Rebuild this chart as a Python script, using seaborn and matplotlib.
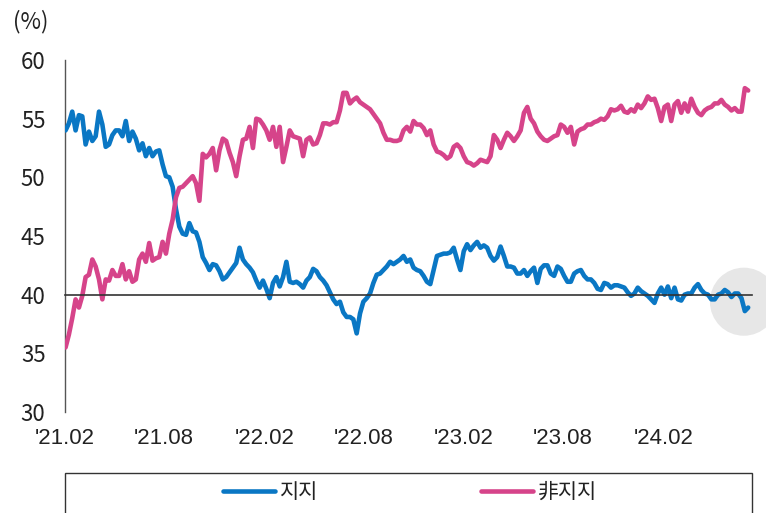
import numpy as np
import pandas as pd
import matplotlib
matplotlib.use("Agg")
import matplotlib.pyplot as plt
import matplotlib.dates as mdates
from matplotlib.patches import Ellipse, Rectangle
from matplotlib.lines import Line2D
import seaborn as sns

sns.set_style("white")
plt.rcParams["font.family"] = ["Noto Sans CJK KR", "DejaVu Sans"]

# ---- data -------------------------------------------------------------
first_date, last_date = "2021-02-02", "2024-07-05"

support = [
    54.0, 54.6, 55.6, 54.0, 55.3, 55.2, 52.8, 53.9, 53.1, 53.5,
    55.6, 54.5, 52.6, 52.8, 53.6, 54.0, 54.0, 53.5, 54.8, 53.1,
    53.9, 53.3, 52.3, 52.9, 51.8, 52.5, 51.8, 52.2, 52.3, 51.1,
    50.1, 50.0, 49.2, 47.3,
    45.8, 45.2, 45.1, 46.1, 45.4, 45.3, 44.5, 43.2, 42.7, 42.1,
    42.6, 42.5, 42.0, 41.3, 41.5, 41.9, 42.3, 42.7, 44.0, 43.0,
    42.6, 42.3, 41.9, 41.2, 40.6, 41.2, 40.5, 39.7, 41.0, 41.5,
    40.7, 41.5, 42.8, 41.1,
    41.0, 41.1, 40.9, 40.6, 41.2, 41.5, 42.2, 42.0, 41.5, 41.2,
    40.8, 40.2, 39.6, 39.2, 39.4, 38.5, 38.1, 38.1, 37.9, 36.7,
    38.4, 39.4, 39.7, 40.1, 41.0, 41.7, 41.8, 42.1, 42.4, 42.8,
    42.6, 42.8, 43.0, 43.3,
    42.8, 43.0, 42.3, 42.1, 42.0, 41.6, 41.1, 40.9, 42.1, 43.3,
    43.4, 43.5, 43.5, 43.6, 44.0, 43.0, 42.1, 43.7, 44.3, 43.8,
    44.2, 44.5, 44.0, 44.2, 44.0, 43.3, 42.9, 43.2, 44.1, 43.3,
    42.4, 42.4, 42.3, 41.8,
    41.8, 42.1, 41.6, 42.0, 42.3, 41.0, 42.2, 42.5, 42.5, 41.8,
    41.6, 42.4, 42.2, 41.6, 41.1, 41.1, 41.8, 42.0, 42.1, 41.6,
    41.3, 41.3, 41.0, 40.5, 40.4, 41.0, 40.9, 40.6, 40.8, 40.8,
    40.7, 40.6, 40.2, 39.9,
    40.1, 40.6, 40.3, 40.1, 39.9, 39.6, 39.3, 40.1, 40.6, 40.0,
    40.7, 39.7, 40.6, 39.6, 39.5, 40.0, 40.1, 40.1, 40.6, 40.9,
    40.4, 40.1, 40.0, 39.6, 39.6, 40.0, 40.1, 40.4, 40.2, 39.8,
    40.1, 40.1, 39.7, 38.6, 38.9,
]

non_support = [
    35.5, 36.6, 38.0, 39.6, 38.9, 39.9, 41.5, 41.7, 43.0, 42.4,
    41.3, 39.6, 41.3, 41.2, 42.1, 41.6, 41.6, 42.6, 41.3, 42.0,
    41.1, 41.3, 43.0, 43.5, 42.8, 44.4, 42.9, 43.1, 43.2, 44.5,
    43.5, 45.2, 46.4, 48.3,
    49.1, 49.2, 49.5, 49.8, 50.1, 49.5, 48.0, 52.0, 51.7, 52.0,
    52.5, 50.6, 52.3, 53.3, 53.1, 52.1, 51.3, 50.1, 51.8, 53.2,
    53.3, 54.3, 52.5, 55.0, 54.9, 54.5, 54.0, 53.2, 54.3, 52.6,
    54.3, 51.3, 52.6, 54.0,
    53.5, 53.4, 53.3, 51.8, 53.2, 53.4, 52.8, 52.9, 53.6, 54.6,
    54.6, 54.5, 54.7, 54.7, 55.7, 57.2, 57.2, 56.3, 56.6, 56.8,
    56.4, 56.2, 56.0, 55.8, 55.4, 55.0, 54.6, 53.8, 53.2, 53.2,
    53.1, 53.1, 53.2, 54.0,
    54.3, 53.9, 54.8, 54.5, 54.5, 54.2, 53.6, 54.0, 52.8, 52.2,
    52.1, 51.9, 51.6, 51.8, 52.6, 52.8, 52.5, 51.8, 51.3, 51.2,
    51.0, 51.2, 51.5, 51.4, 51.3, 51.8, 53.6, 53.2, 52.5, 53.2,
    53.8, 53.5, 53.1, 53.5,
    54.0, 55.5, 56.0, 55.0, 54.6, 53.9, 53.5, 53.2, 53.1, 53.3,
    53.5, 53.6, 54.5, 54.3, 53.8, 54.3, 52.8, 53.9, 54.1, 54.2,
    54.5, 54.5, 54.7, 54.8, 55.0, 54.9, 55.2, 55.8, 55.7, 55.8,
    56.1, 55.6, 55.5, 55.8,
    55.6, 56.2, 55.9, 56.3, 56.9, 56.6, 56.7, 55.9, 54.8, 56.0,
    56.2, 54.8, 56.2, 56.5, 55.5, 56.3, 55.6, 56.7, 56.0, 55.5,
    55.3, 55.7, 55.9, 56.0, 56.3, 56.3, 56.6, 56.2, 56.0, 55.7,
    55.9, 55.6, 55.6, 57.6, 57.4,
]

series_names = ["지지", "非지지"]
series_colors = ["#0A77C4", "#D6448A"]

tick_dates = ["2021-02-01", "2021-08-01", "2022-02-01", "2022-08-01",
              "2023-02-01", "2023-08-01", "2024-02-01"]
tick_labels = ["'21.02", "'21.08", "'22.02", "'22.08",
               "'23.02", "'23.08", "'24.02"]
y_ticks = [30, 35, 40, 45, 50, 55, 60]

# ---- frame ------------------------------------------------------------
dates = pd.date_range(first_date, last_date, periods=len(support))
df = pd.DataFrame({
    "date": np.concatenate([dates, dates]),
    "value": support + non_support,
    "series": [series_names[0]] * len(support) + [series_names[1]] * len(non_support),
})

W, H = 766, 513
fig = plt.figure(figsize=(W / 100, H / 100), dpi=100)
ax = fig.add_axes([65 / W, 101 / H, 687 / W, 352 / H])

# highlight bubble around the latest readings (drawn under the lines)
bubble_center = mdates.date2num(dates[-1] - pd.Timedelta(days=8))
ax.add_patch(Ellipse((bubble_center, 39.4), width=124, height=5.8,
                     facecolor="#E7E7E7", edgecolor="none",
                     zorder=0.5, clip_on=False))

sns.lineplot(data=df, x="date", y="value", hue="series",
             hue_order=series_names, palette=series_colors,
             linewidth=3.3, legend=False, ax=ax, zorder=3)

ax.set_xlim(pd.Timestamp("2021-02-01"), pd.Timestamp("2024-07-12"))
ax.set_ylim(30, 60)
ax.set_xlabel("")
ax.set_ylabel("")

for side in ("top", "right"):
    ax.spines[side].set_visible(False)
ax.spines["left"].set_color("#555555")
ax.spines["left"].set_linewidth(1.0)
ax.spines["bottom"].set_position(("data", 40))
ax.spines["bottom"].set_color("#333333")
ax.spines["bottom"].set_linewidth(1.2)
ax.spines["bottom"].set_zorder(4)

ax.tick_params(axis="y", direction="out", length=4, width=1, color="#555555",
               pad=10, labelsize=16, labelcolor="#222222")
ax.tick_params(axis="x", direction="out", length=4, width=1, color="#333333",
               pad=92, labelsize=16, labelcolor="#222222",
               labelfontfamily="Liberation Sans")

ax.set_yticks(y_ticks)
ax.set_yticklabels([str(v) for v in y_ticks])
ax.set_xticks(pd.to_datetime(tick_dates))
ax.set_xticklabels(tick_labels)

fig.text(13 / W, 1 - 22 / H, "(%)", fontsize=16, color="#222222",
         ha="left", va="center")

# legend strip along the bottom edge
fig.patches.append(Rectangle((65 / W, -0.05), 687 / W, 0.05 + (1 - 473 / H),
                             transform=fig.transFigure, fill=False,
                             edgecolor="#333333", linewidth=1.0))
handles = [Line2D([], [], color=c, linewidth=3.3) for c in series_colors]
fig.legend(handles, series_names, loc="center",
           bbox_to_anchor=(410 / W, 1 - 492 / H), ncol=2, frameon=False,
           handlelength=2.5, handletextpad=0.25, columnspacing=7.8,
           fontsize=15, labelcolor="#222222")

fig.savefig("out.png", dpi=100)
